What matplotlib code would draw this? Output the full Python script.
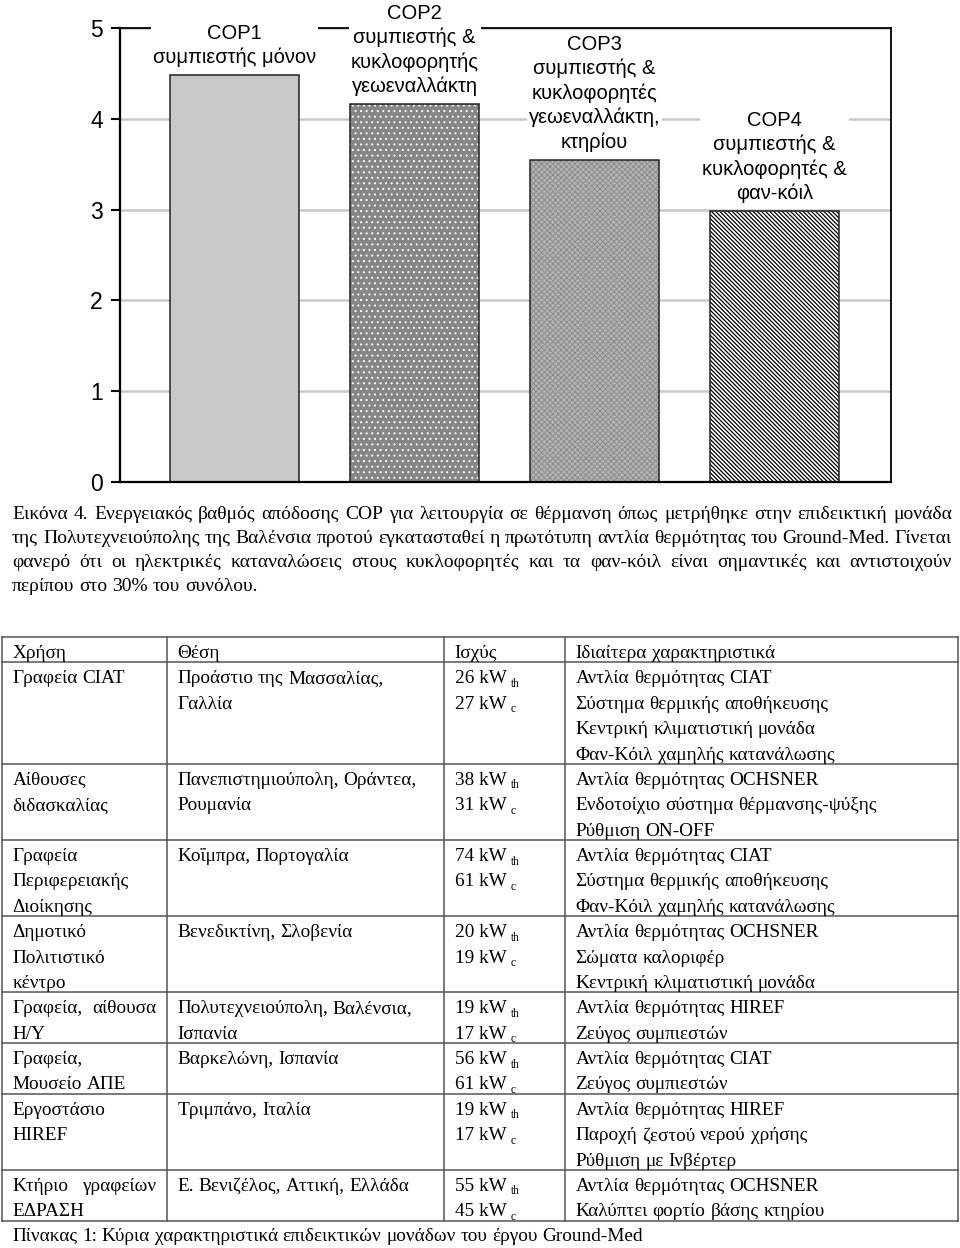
import matplotlib
matplotlib.use("Agg")
import matplotlib.pyplot as plt
from matplotlib.lines import Line2D

# --- chart data ---
categories = ["COP1", "COP2", "COP3", "COP4"]
descriptions = ["συμπιεστής μόνον",
                "συμπιεστής &\nκυκλοφορητής\nγεωεναλλάκτη",
                "συμπιεστής &\nκυκλοφορητές\nγεωεναλλάκτη,\nκτηρίου",
                "συμπιεστής &\nκυκλοφορητές &\nφαν-κόιλ"]
cop_values = [4.48, 4.16, 3.55, 2.98]
y_ticks = [0, 1, 2, 3, 4, 5]

# --- caption text ---
caption_lines = [
    "Εικόνα 4. Ενεργειακός βαθμός απόδοσης COP για λειτουργία σε θέρμανση όπως μετρήθηκε στην επιδεικτική μονάδα",
    "της Πολυτεχνειούπολης της Βαλένσια προτού εγκατασταθεί η πρωτότυπη αντλία θερμότητας του Ground-Med. Γίνεται",
    "φανερό ότι οι ηλεκτρικές καταναλώσεις στους κυκλοφορητές και τα φαν-κόιλ είναι σημαντικές και αντιστοιχούν",
    "περίπου στο 30% του συνόλου.",
]

# --- table data ---
headers = ["Χρήση", "Θέση", "Ισχύς", "Ιδιαίτερα χαρακτηριστικά"]
uses = [["Γραφεία CIAT"],
        ["Αίθουσες", "διδασκαλίας"],
        ["Γραφεία", "Περιφερειακής", "Διοίκησης"],
        ["Δημοτικό", "Πολιτιστικό", "κέντρο"],
        ["Γραφεία, αίθουσα", "Η/Υ"],
        ["Γραφεία,", "Μουσείο ΑΠΕ"],
        ["Εργοστάσιο", "HIREF"],
        ["Κτήριο γραφείων", "ΕΔΡΑΣΗ"]]
places = [["Προάστιο της Μασσαλίας,", "Γαλλία"],
          ["Πανεπιστημιούπολη, Οράντεα,", "Ρουμανία"],
          ["Κοΐμπρα, Πορτογαλία"],
          ["Βενεδικτίνη, Σλοβενία"],
          ["Πολυτεχνειούπολη, Βαλένσια,", "Ισπανία"],
          ["Βαρκελώνη, Ισπανία"],
          ["Τριμπάνο, Ιταλία"],
          ["Ε. Βενιζέλος, Αττική, Ελλάδα"]]
heat_kw = [26, 38, 74, 20, 19, 56, 19, 55]
cool_kw = [27, 31, 61, 19, 17, 61, 17, 45]
features = [["Αντλία θερμότητας CIAT", "Σύστημα θερμικής αποθήκευσης",
             "Κεντρική κλιματιστική μονάδα", "Φαν-Κόιλ χαμηλής κατανάλωσης"],
            ["Αντλία θερμότητας OCHSNER", "Ενδοτοίχιο σύστημα θέρμανσης-ψύξης", "Ρύθμιση ON-OFF"],
            ["Αντλία θερμότητας CIAT", "Σύστημα θερμικής αποθήκευσης", "Φαν-Κόιλ χαμηλής κατανάλωσης"],
            ["Αντλία θερμότητας OCHSNER", "Σώματα καλοριφέρ", "Κεντρική κλιματιστική μονάδα"],
            ["Αντλία θερμότητας HIREF", "Ζεύγος συμπιεστών"],
            ["Αντλία θερμότητας CIAT", "Ζεύγος συμπιεστών"],
            ["Αντλία θερμότητας HIREF", "Παροχή ζεστού νερού χρήσης", "Ρύθμιση με Ινβέρτερ"],
            ["Αντλία θερμότητας OCHSNER", "Καλύπτει φορτίο βάσης κτηρίου"]]
table_caption = "Πίνακας 1: Κύρια χαρακτηριστικά επιδεικτικών μονάδων του έργου Ground-Med"

SANS = "Liberation Sans"
SERIF = "Liberation Serif"
W, H = 960, 1248

fig = plt.figure(figsize=(W / 100, H / 100), dpi=100)
renderer = fig.canvas.get_renderer()


def fx(x):
    return x / W


def fy(y):
    return 1 - y / H


# ---------------- bar chart ----------------
ax = fig.add_axes([fx(120), fy(482), (891 - 120) / W, (482 - 28) / H])
xs = list(range(len(categories)))
faces = ["#c8c8c8", "#868686", "#b2b2b2", "white"]
hatches = [None, "...", "xxxxxx", "\\" * 8]
hatch_cols = ["#c8c8c8", "white", "#8a8a8a", "black"]
hatch_lws = [0.5, 0.7, 0.6, 0.9]
bw = 0.717
ax.bar(xs, cop_values, width=bw, color=faces, edgecolor="none", zorder=2)
for i in xs:
    if hatches[i]:
        with plt.rc_context({"hatch.linewidth": hatch_lws[i]}):
            b = ax.bar(xs[i], cop_values[i], width=bw, fill=False, hatch=hatches[i],
                       edgecolor=hatch_cols[i], linewidth=0, zorder=2.1)
        for p in b:
            if hasattr(p, "set_hatch_linewidth"):
                p.set_hatch_linewidth(hatch_lws[i])
ax.bar(xs, cop_values, width=bw, fill=False, edgecolor="#222222", linewidth=1.1, zorder=2.2)

ax.set_xlim(-0.637, 3.646)
ax.set_ylim(0, 5)
ax.set_yticks(y_ticks)
ax.set_xticks([])
ax.yaxis.grid(True, color="#c8c8c8", linewidth=1.8)
ax.set_axisbelow(True)
ax.tick_params(axis="y", length=6.5, width=1.5, labelsize=16.5, pad=6, direction="out")
for lab in ax.get_yticklabels():
    lab.set_family(SANS)
for s in ["left", "bottom"]:
    ax.spines[s].set_linewidth(1.6)
for s in ["top", "right"]:
    ax.spines[s].set_linewidth(1.3)

label_y = [4.81, 4.76, 4.28, 3.58]
for i in xs:
    ax.text(xs[i], label_y[i], categories[i] + "\n" + descriptions[i], ha="center", va="center",
            ma="center", fontsize=14.5, family=SANS, linespacing=1.32, clip_on=False, zorder=3,
            bbox=dict(boxstyle="square,pad=0.1", facecolor="white", edgecolor="none"))


# ---------------- text helpers ----------------
def put_line(line, x0, x1, baseline, size, justify):
    words = line.split()
    arts = [fig.text(0, fy(baseline), w, fontsize=size, family=SERIF, va="baseline", ha="left")
            for w in words]
    widths = [a.get_window_extent(renderer=renderer).width for a in arts]
    if justify and len(words) > 1:
        gap = (x1 - x0 - sum(widths)) / (len(words) - 1)
    else:
        gap = size * 100 / 72 * 0.25
    x = x0
    for a, w in zip(arts, widths):
        a.set_x(fx(x))
        x += w + gap


# ---------------- caption paragraph ----------------
for k, line in enumerate(caption_lines):
    put_line(line, 12, 952, 519 + 24 * k, 14.0, k < len(caption_lines) - 1)

# ---------------- table ----------------
col_x = [2, 166.7, 444.3, 565, 958.3]
pad = 10.5
pitch = 25.38
tsize = 13.85
top = 637.0
line_col = "#555555"


def hline(y):
    fig.add_artist(Line2D([fx(col_x[0]), fx(col_x[-1])], [fy(y), fy(y)], color=line_col, lw=1.1))


hline(top)
for c, h in enumerate(headers):
    put_line(h, col_x[c] + pad, col_x[c + 1] - pad, top + 21, tsize, False)
y = top + pitch
hline(y)
for r in range(len(uses)):
    n = max(len(uses[r]), len(places[r]), 2, len(features[r]))
    for k, t in enumerate(uses[r]):
        put_line(t, col_x[0] + pad, col_x[1] - pad, y + 21 + k * pitch, tsize, k < len(uses[r]) - 1)
    for k, t in enumerate(places[r]):
        put_line(t, col_x[1] + pad, col_x[2] - pad, y + 21 + k * pitch, tsize, False)
    for k, (val, sub) in enumerate([(heat_kw[r], "th"), (cool_kw[r], "c")]):
        b = y + 21 + k * pitch
        main = fig.text(fx(col_x[2] + pad), fy(b), f"{val} kW", fontsize=tsize, family=SERIF,
                        va="baseline", ha="left")
        mw = main.get_window_extent(renderer=renderer).width
        fig.text(fx(col_x[2] + pad + mw + 4.5), fy(b + 3.5), sub, fontsize=8.3, family=SERIF,
                 va="baseline", ha="left")
    for k, t in enumerate(features[r]):
        put_line(t, col_x[3] + pad, col_x[4] - pad, y + 21 + k * pitch, tsize, False)
    y += n * pitch
    hline(y)
for cx in col_x:
    fig.add_artist(Line2D([fx(cx), fx(cx)], [fy(top), fy(y)], color=line_col, lw=1.1))

put_line(table_caption, 12, 950, y + 20, tsize, False)

fig.savefig("out.png", dpi=100)
